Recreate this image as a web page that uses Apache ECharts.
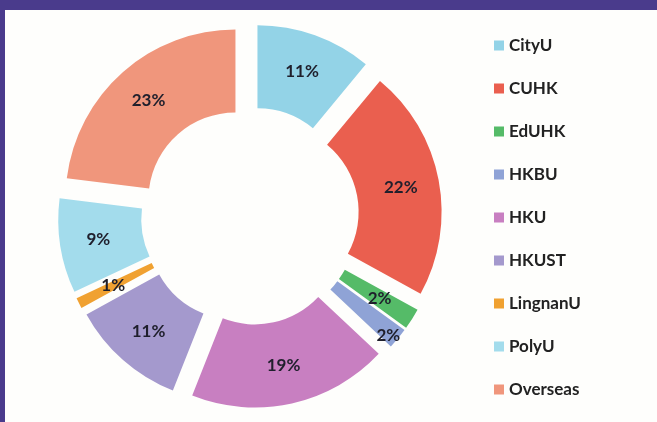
<!DOCTYPE html>
<html>
<head>
<meta charset="utf-8">
<script src="https://cdn.jsdelivr.net/npm/echarts@6/dist/echarts.min.js"></script>
<style>
  html, body { margin: 0; padding: 0; background: #fefefc; }
  #chart { width: 657px; height: 422px; }
</style>
</head>
<body>
<div id="chart"></div>
<script>
const universities = ['CityU', 'CUHK', 'EdUHK', 'HKBU', 'HKU', 'HKUST', 'LingnanU', 'PolyU', 'Overseas']
const shares = [11, 22, 2, 2, 19, 11, 1, 9, 23]
const colors = ['#93d3e7', '#ea5f4f', '#55bb68', '#8fa3d6', '#c87fc1', '#a499cd', '#f0a131', '#a3dcec', '#f0967c']

const chart = echarts.init(document.getElementById('chart'))

const option = {
  backgroundColor: '#fefefc',
  animation: false,
  color: colors,
  graphic: [
    // purple frame of the photographed slide
    { type: 'rect', left: 0, top: 0, shape: { width: 657, height: 10 }, style: { fill: '#4a3b8c' } },
    { type: 'rect', left: 0, top: 0, shape: { width: 5, height: 422 }, style: { fill: '#4a3b8c' } }
  ],
  legend: {
    orient: 'vertical',
    left: 494,
    top: 37,
    padding: 0,
    itemWidth: 10,
    itemHeight: 10,
    itemGap: 26,
    icon: 'rect',
    selectedMode: false,
    textStyle: {
      fontFamily: 'Lato',
      fontWeight: 'bold',
      fontSize: 17,
      lineHeight: 16,
      color: '#222'
    },
    data: universities
  },
  series: [
    {
      type: 'pie',
      center: [250, 216],
      radius: [87, 170],
      startAngle: 90,
      clockwise: true,
      selectedMode: 'multiple',
      selectedOffset: 22,
      avoidLabelOverlap: false,
      emphasis: { disabled: true },
      label: {
        show: true,
        position: 'inside',
        formatter: '{c}%',
        fontFamily: 'Lato',
        fontWeight: 'bold',
        fontSize: 17,
        color: '#1f1f2c'
      },
      labelLine: { show: false },
      // the HKBU label sits further out, as in the original
      labelLayout: params => params.dataIndex === 3 ? { dx: 20, dy: 22 } : {},
      data: universities.map((name, i) => ({
        name,
        value: shares[i],
        selected: true
      }))
    }
  ]
}

chart.setOption(option)
</script>
</body>
</html>
